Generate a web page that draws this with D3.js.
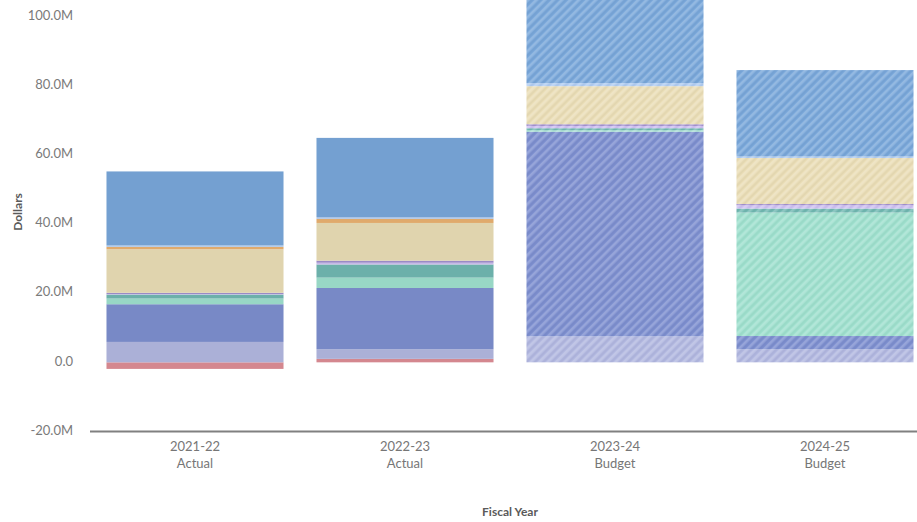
<!DOCTYPE html>
<html>
<head>
<meta charset="utf-8">
<script src="https://cdn.jsdelivr.net/npm/d3@7"></script>
<style>
  html, body { margin: 0; padding: 0; background: #fff; }
  svg { display: block; font-family: Lato, "Open Sans", sans-serif; }
</style>
</head>
<body>
<svg id="chart" width="917" height="522"></svg>
<script>
// Fiscal years and their status
const years = ["2021-22", "2022-23", "2023-24", "2024-25"];
const kinds = ["Actual", "Actual", "Budget", "Budget"];

// Stack layers, bottom to top (values in millions of dollars)
const seriesNames = ["s1", "s2", "s3", "s4", "s5", "s6", "s7", "s8", "s9", "s10", "s11"];
const seriesColors = ["#d4878f", "#abb0d7", "#7889c6", "#98d7c5", "#6cb0aa", "#c6b9e8",
                      "#9a8ac6", "#e0d4ae", "#e0aa6c", "#aac4e8", "#74a0d1"];
const s1  = [-1.9, 1.0, 0.0, 0.0];
const s2  = [5.9, 2.8, 7.5, 3.76];
const s3  = [10.9, 17.7, 59.2, 3.85];
const s4  = [1.65, 3.0, 0.4, 35.7];
const s5  = [1.15, 3.8, 0.6, 1.16];
const s6  = [0.15, 0.5, 0.65, 0.93];
const s7  = [0.35, 0.6, 0.5, 0.38];
const s8  = [12.6, 10.9, 11.0, 13.3];
const s9  = [0.7, 1.2, 0.0, 0.0];
const s10 = [0.4, 0.5, 0.9, 0.43];
const s11 = [21.4, 22.9, 28.0, 25.0];
const seriesValues = [s1, s2, s3, s4, s5, s6, s7, s8, s9, s10, s11];

// Axis ticks (millions)
const yTicks = [-20, 0, 20, 40, 60, 80, 100];

const rows = years.map((y, i) => {
  const r = { year: y, kind: kinds[i] };
  seriesNames.forEach((n, k) => { r[n] = seriesValues[k][i]; });
  return r;
});

const svg = d3.select("#chart");

const x = d3.scaleBand()
  .domain(years)
  .range([90, 930])
  .paddingInner(0.157)
  .paddingOuter(0.0785);

const y = d3.scaleLinear()
  .domain([-20, 100])
  .range([431.5, 16.5]);

const stacked = d3.stack()
  .keys(seriesNames)
  .offset(d3.stackOffsetDiverging)(rows);

// Diagonal hatching used for budget years
const defs = svg.append("defs");
seriesNames.forEach((n, k) => {
  const p = defs.append("pattern")
    .attr("id", "hatch-" + n)
    .attr("patternUnits", "userSpaceOnUse")
    .attr("width", 6)
    .attr("height", 6)
    .attr("patternTransform", "rotate(45)");
  p.append("rect").attr("width", 6).attr("height", 6)
    .attr("fill", d3.color(seriesColors[k]).brighter(0.12));
  p.append("rect").attr("x", 0).attr("width", 2.5).attr("height", 6)
    .attr("fill", "#fff").attr("fill-opacity", 0.2);
  p.append("rect").attr("x", 3.5).attr("width", 1.2).attr("height", 6)
    .attr("fill", d3.color(seriesColors[k]).darker(0.25)).attr("fill-opacity", 0.4);
});

// Stacked bars
const layers = svg.append("g").selectAll("g")
  .data(stacked)
  .join("g");

layers.each(function (layer, k) {
  d3.select(this).selectAll("rect")
    .data(layer.filter(d => d[1] !== d[0]))
    .join("rect")
    .attr("x", d => x(d.data.year))
    .attr("width", x.bandwidth())
    .attr("y", d => y(Math.max(d[0], d[1])))
    .attr("height", d => Math.abs(y(d[0]) - y(d[1])))
    .attr("fill", d => d.data.kind === "Budget"
      ? "url(#hatch-" + layer.key + ")"
      : seriesColors[k]);
});

// Y axis labels
const fmt = v => v === 0 ? "0.0" : v.toFixed(1) + "M";
svg.append("g").selectAll("text")
  .data(yTicks)
  .join("text")
  .attr("x", 73)
  .attr("y", d => y(d))
  .attr("dy", "0.25em")
  .attr("text-anchor", "end")
  .attr("font-size", 13)
  .attr("fill", "#7a7a7a")
  .text(fmt);

// Baseline at the bottom of the value range
svg.append("line")
  .attr("x1", 90).attr("x2", 917)
  .attr("y1", y(-20)).attr("y2", y(-20))
  .attr("stroke", "#808080")
  .attr("stroke-width", 2);

// X axis category labels
const xl = svg.append("g").selectAll("g")
  .data(rows)
  .join("g")
  .attr("transform", d => `translate(${x(d.year) + x.bandwidth() / 2},0)`);
xl.append("text")
  .attr("y", 451)
  .attr("text-anchor", "middle")
  .attr("font-size", 13)
  .attr("fill", "#767676")
  .text(d => d.year);
xl.append("text")
  .attr("y", 468)
  .attr("text-anchor", "middle")
  .attr("font-size", 13)
  .attr("fill", "#767676")
  .text(d => d.kind);

// Axis titles
svg.append("text")
  .attr("x", 510)
  .attr("y", 516)
  .attr("text-anchor", "middle")
  .attr("font-size", 12)
  .attr("font-weight", "bold")
  .attr("fill", "#5a5a5a")
  .text("Fiscal Year");

svg.append("text")
  .attr("transform", "translate(22,212) rotate(-90)")
  .attr("text-anchor", "middle")
  .attr("font-size", 12)
  .attr("font-weight", "bold")
  .attr("fill", "#5a5a5a")
  .text("Dollars");
</script>
</body>
</html>
